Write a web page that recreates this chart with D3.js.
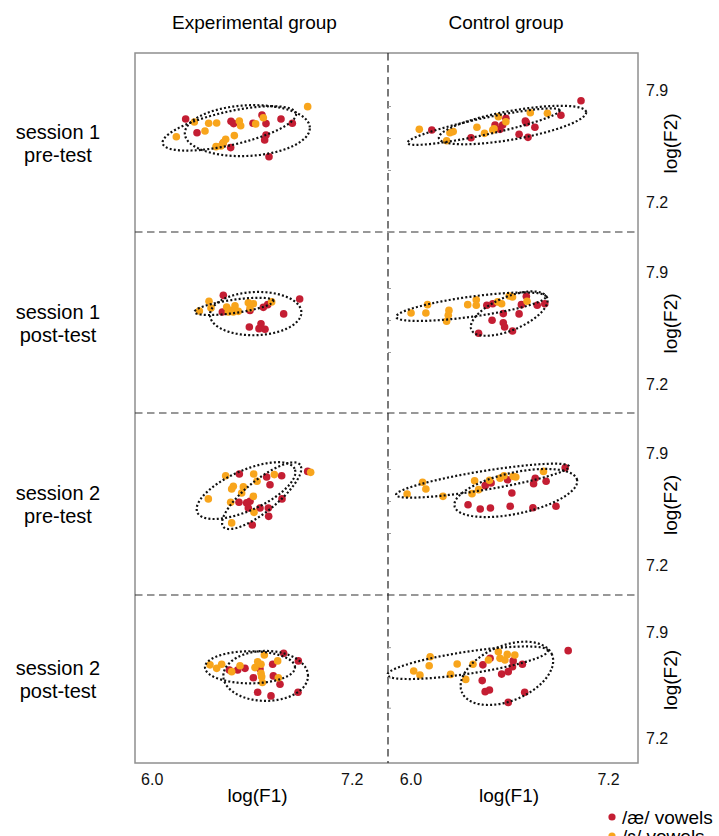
<!DOCTYPE html>
<html>
<head>
<meta charset="utf-8">
<script src="https://cdn.jsdelivr.net/npm/d3@7"></script>
<style>
  body { margin: 0; background: #fff; }
  svg { display: block; font-family: Arial, "Liberation Sans", sans-serif; }
</style>
</head>
<body>
<div id="chart"></div>
<script>
const groups = ["Experimental group", "Control group"];
const sessions = [["session 1", "pre-test"], ["session 1", "post-test"], ["session 2", "pre-test"], ["session 2", "post-test"]];
const xTicks = [6.0, 7.2];
const yTicks = [7.9, 7.2];
const minorTicks = [7.4, 7.6, 7.8];
const vowels = ["/æ/ vowels", "/ɛ/ vowels"];

// [log(F1), log(F2)] per speaker
const exp_s1pre_ae = [[6.204,7.719],[6.272,7.633],[6.476,7.704],[6.492,7.690],[6.608,7.692],[6.662,7.744],[6.686,7.690],[6.776,7.719],[6.844,7.692],[6.686,7.619],[6.678,7.588],[6.474,7.540],[6.428,7.567],[6.704,7.483]];
const exp_s1pre_eh = [[6.256,7.700],[6.342,7.692],[6.390,7.694],[6.320,7.644],[6.148,7.608],[6.526,7.706],[6.534,7.677],[6.624,7.688],[6.670,7.727],[6.936,7.796],[6.496,7.615],[6.444,7.592],[6.430,7.571],[6.386,7.546],[6.416,7.550]];
const ctl_s1pre_ae = [[6.166,7.650],[6.404,7.602],[6.550,7.681],[6.580,7.654],[6.596,7.681],[6.616,7.723],[6.696,7.623],[6.734,7.706],[6.740,7.696],[6.750,7.604],[6.792,7.667],[6.950,7.742],[7.072,7.833]];
const ctl_s1pre_eh = [[6.090,7.654],[6.256,7.583],[6.276,7.633],[6.296,7.640],[6.440,7.667],[6.486,7.629],[6.536,7.650],[6.544,7.658],[6.570,7.733],[6.616,7.702],[6.764,7.758],[6.868,7.754]];
const exp_s1post_ae = [[6.430,7.754],[6.424,7.650],[6.590,7.660],[6.670,7.679],[6.696,7.696],[6.792,7.638],[6.888,7.731],[6.586,7.556],[6.656,7.577],[6.644,7.546],[6.680,7.542]];
const exp_s1post_eh = [[6.286,7.656],[6.344,7.717],[6.356,7.675],[6.450,7.681],[6.470,7.660],[6.500,7.688],[6.490,7.650],[6.520,7.654],[6.460,7.650],[6.580,7.708],[6.610,7.702],[6.590,7.675],[6.720,7.713]];
const ctl_s1post_ae = [[6.500,7.692],[6.536,7.702],[6.740,7.748],[6.710,7.696],[6.806,7.692],[6.852,7.702],[6.600,7.640],[6.532,7.598],[6.600,7.583],[6.608,7.556],[6.656,7.531],[6.696,7.638],[6.450,7.517]];
const ctl_s1post_eh = [[6.040,7.644],[6.140,7.696],[6.130,7.644],[6.270,7.660],[6.266,7.629],[6.256,7.592],[6.384,7.696],[6.436,7.727],[6.436,7.692],[6.566,7.713],[6.590,7.702],[6.636,7.750],[6.656,7.744],[6.744,7.717]];
const exp_s2pre_ae = [[6.526,7.769],[6.690,7.750],[6.780,7.758],[6.710,7.702],[6.524,7.592],[6.570,7.588],[6.590,7.598],[6.580,7.556],[6.650,7.556],[6.700,7.556],[6.702,7.504],[6.782,7.613],[6.936,7.785],[6.604,7.450]];
const exp_s2pre_eh = [[6.340,7.613],[6.444,7.758],[6.612,7.769],[6.632,7.723],[6.736,7.765],[6.490,7.692],[6.480,7.675],[6.550,7.688],[6.540,7.650],[6.610,7.629],[6.474,7.592],[6.614,7.529],[6.954,7.779],[6.480,7.463]];
const ctl_s2pre_ae = [[6.490,7.696],[6.526,7.713],[6.626,7.733],[6.794,7.742],[6.784,7.708],[6.860,7.723],[6.976,7.808],[6.652,7.650],[6.386,7.577],[6.460,7.550],[6.522,7.556],[6.642,7.567],[6.780,7.558],[6.920,7.567]];
const ctl_s2pre_eh = [[6.016,7.644],[6.110,7.717],[6.130,7.675],[6.234,7.629],[6.426,7.727],[6.450,7.671],[6.410,7.646],[6.516,7.729],[6.580,7.742],[6.604,7.758],[6.660,7.754],[6.676,7.750],[6.844,7.785]];
const exp_s2post_ae = [[6.466,7.649],[6.516,7.649],[6.560,7.660],[6.610,7.598],[6.650,7.656],[6.726,7.687],[6.792,7.759],[6.880,7.709],[6.730,7.610],[6.770,7.555],[6.636,7.502],[6.716,7.478],[6.878,7.502]];
const exp_s2post_eh = [[6.350,7.683],[6.390,7.660],[6.420,7.687],[6.480,7.638],[6.530,7.677],[6.620,7.665],[6.636,7.704],[6.656,7.687],[6.656,7.627],[6.660,7.605],[6.664,7.567],[6.676,7.748],[6.756,7.709],[6.760,7.598]];
const ctl_s2post_ae = [[6.476,7.683],[6.520,7.726],[6.590,7.622],[6.630,7.638],[6.656,7.671],[6.660,7.709],[6.716,7.687],[6.472,7.579],[6.490,7.506],[6.516,7.517],[6.730,7.502],[6.630,7.435],[6.994,7.777]];
const ctl_s2post_eh = [[6.056,7.642],[6.094,7.616],[6.150,7.677],[6.156,7.737],[6.280,7.620],[6.320,7.689],[6.372,7.587],[6.416,7.687],[6.510,7.715],[6.570,7.770],[6.580,7.726],[6.610,7.715],[6.624,7.752],[6.670,7.748]];

// ellipses: [centre F1, centre F2, major axis dF1, dF2, minor axis dF1, dF2]  (/æ/, /ɛ/)
const exp_s1pre_ell = [[6.574,7.646,0.375,0.020,-0.008,0.158],[6.466,7.660,0.400,0.094,-0.022,0.102]];
const ctl_s1pre_ell = [[6.656,7.681,0.447,0.082,-0.015,0.088],[6.480,7.671,0.462,0.102,-0.010,0.051]];
const exp_s1post_ell = [[6.624,7.640,0.274,0.010,-0.005,0.135],[6.494,7.685,0.236,0.035,-0.006,0.041]];
const ctl_s1post_ell = [[6.636,7.640,0.230,0.100,-0.039,0.096],[6.404,7.683,0.454,0.064,-0.008,0.062]];
const exp_s2pre_ell = [[6.660,7.633,0.230,0.194,-0.059,0.076],[6.566,7.665,0.292,0.136,-0.049,0.114]];
const ctl_s2pre_ell = [[6.676,7.650,0.372,0.082,-0.026,0.126],[6.474,7.727,0.525,0.089,-0.009,0.058]];
const exp_s2post_ell = [[6.684,7.610,0.254,0,0,0.165],[6.590,7.667,0.270,0,0,0.106]];
const ctl_s2post_ell = [[6.622,7.627,0.274,0.123,-0.062,0.169],[6.384,7.697,0.487,0.080,-0.010,0.072]];

const panels = [
    { row: 0, col: 0, ae: exp_s1pre_ae, eh: exp_s1pre_eh, ell: exp_s1pre_ell },
    { row: 0, col: 1, ae: ctl_s1pre_ae, eh: ctl_s1pre_eh, ell: ctl_s1pre_ell },
    { row: 1, col: 0, ae: exp_s1post_ae, eh: exp_s1post_eh, ell: exp_s1post_ell },
    { row: 1, col: 1, ae: ctl_s1post_ae, eh: ctl_s1post_eh, ell: ctl_s1post_ell },
    { row: 2, col: 0, ae: exp_s2pre_ae, eh: exp_s2pre_eh, ell: exp_s2pre_ell },
    { row: 2, col: 1, ae: ctl_s2pre_ae, eh: ctl_s2pre_eh, ell: ctl_s2pre_ell },
    { row: 3, col: 0, ae: exp_s2post_ae, eh: exp_s2post_eh, ell: exp_s2post_ell },
    { row: 3, col: 1, ae: ctl_s2post_ae, eh: ctl_s2post_eh, ell: ctl_s2post_ell }
];

const width = 719, height = 836;
const colors = { ae: "#c41e33", eh: "#f8a51c" };
const box = { left: 135, right: 638, top: 53, bottom: 763 };
const divX = 388;
const rowEdges = [53, 232, 413, 595, 763];
// pixel rows where 7.9 and 7.2 fall in each panel row
const rowTickPx = [[90, 202], [272, 384], [453, 565], [632, 738]];
const colRange = [[box.left, divX], [divX, box.right]];
const colLabelShift = [0, 6];
const xDomain = [5.9, 7.418];

const svg = d3.select("#chart")
    .append("svg")
    .attr("width", width)
    .attr("height", height)
    .attr("viewBox", [0, 0, width, height]);

const xScale = col => d3.scaleLinear().domain(xDomain).range(colRange[col]);
const yScale = row => d3.scaleLinear().domain(yTicks).range(rowTickPx[row]);

// frame and dashed dividers
svg.append("rect")
    .attr("x", box.left).attr("y", box.top)
    .attr("width", box.right - box.left).attr("height", box.bottom - box.top)
    .attr("fill", "none").attr("stroke", "#8f8f8f").attr("stroke-width", 1.5);

svg.selectAll("line.hdiv")
    .data(rowEdges.slice(1, 4))
    .join("line")
    .attr("x1", box.left).attr("x2", box.right)
    .attr("y1", d => d).attr("y2", d => d)
    .attr("stroke", "#333").attr("stroke-width", 1.2)
    .attr("stroke-dasharray", "7.5,4.5");

svg.append("line")
    .attr("x1", divX).attr("x2", divX)
    .attr("y1", box.top).attr("y2", box.bottom)
    .attr("stroke", "#222").attr("stroke-width", 1.2)
    .attr("stroke-dasharray", "7.5,4.5");

const ellipsePath = d3.line().curve(d3.curveLinearClosed);

panels.forEach(p => {
    const x = xScale(p.col);
    const y = yScale(p.row);
    const g = svg.append("g");

    g.selectAll("circle.ae")
        .data(p.ae)
        .join("circle")
        .attr("cx", d => x(d[0])).attr("cy", d => y(d[1]))
        .attr("r", 3.8).attr("fill", colors.ae);

    g.selectAll("circle.eh")
        .data(p.eh)
        .join("circle")
        .attr("cx", d => x(d[0])).attr("cy", d => y(d[1]))
        .attr("r", 3.8).attr("fill", colors.eh);

    g.selectAll("path")
        .data(p.ell)
        .join("path")
        .attr("d", e => ellipsePath(d3.range(180).map(i => {
            const t = i / 180 * 2 * Math.PI;
            return [x(e[0] + e[2] * Math.cos(t) + e[4] * Math.sin(t)),
                    y(e[1] + e[3] * Math.cos(t) + e[5] * Math.sin(t))];
        })))
        .attr("fill", "none")
        .attr("stroke", "#111")
        .attr("stroke-width", 2.2)
        .attr("stroke-dasharray", "2,2.2");
});

// y axes on the right, small ticks on the divider, row labels
sessions.forEach((s, row) => {
    const y = yScale(row);
    const ax = svg.append("g")
        .attr("transform", `translate(${box.right},0)`)
        .call(d3.axisRight(y).tickValues(yTicks).tickSize(0).tickPadding(8).tickFormat(d3.format(".1f")));
    ax.select(".domain").remove();
    ax.selectAll("text").attr("font-size", 16).attr("font-family", "Arial, 'Liberation Sans', sans-serif").attr("fill", "#111");

    const mt = svg.append("g")
        .attr("transform", `translate(${divX},0)`)
        .call(d3.axisRight(y).tickValues(minorTicks).tickSize(3).tickFormat(""));
    mt.select(".domain").remove();
    mt.selectAll("line").attr("stroke", "#999");

    const cy = (rowEdges[row] + rowEdges[row + 1]) / 2 + 1;
    svg.append("text")
        .attr("transform", `translate(677,${cy}) rotate(-90)`)
        .attr("text-anchor", "middle")
        .attr("font-size", 19)
        .text("log(F2)");

    svg.append("text")
        .attr("x", 58).attr("y", cy - 5)
        .attr("text-anchor", "middle")
        .attr("font-size", 20)
        .selectAll("tspan")
        .data(s)
        .join("tspan")
        .attr("x", 58)
        .attr("dy", (d, i) => i === 0 ? 0 : 23)
        .text(d => d);
});

// x axes and column titles
groups.forEach((name, col) => {
    const x = xScale(col);
    const ax = svg.append("g")
        .attr("transform", `translate(${colLabelShift[col]},${box.bottom})`)
        .call(d3.axisBottom(x).tickValues(xTicks).tickSize(0).tickPadding(11).tickFormat(d3.format(".1f")));
    ax.select(".domain").remove();
    ax.selectAll("text").attr("font-size", 16).attr("font-family", "Arial, 'Liberation Sans', sans-serif").attr("fill", "#111");

    const mid = (colRange[col][0] + colRange[col][1]) / 2;
    svg.append("text")
        .attr("x", mid - 4).attr("y", 802)
        .attr("text-anchor", "middle")
        .attr("font-size", 19)
        .text("log(F1)");

    svg.append("text")
        .attr("x", mid - 7).attr("y", 29)
        .attr("text-anchor", "middle")
        .attr("font-size", 19)
        .text(name);
});

// legend (second entry runs off the bottom edge, as in the original)
const legend = svg.append("g").attr("transform", "translate(612,817)");
legend.selectAll("circle")
    .data([colors.ae, colors.eh])
    .join("circle")
    .attr("cx", 0).attr("cy", (d, i) => i * 19)
    .attr("r", 3.6).attr("fill", d => d);
legend.selectAll("text")
    .data(vowels)
    .join("text")
    .attr("x", 10).attr("y", (d, i) => i * 19 + 7)
    .attr("font-size", 19)
    .text(d => d);
</script>
</body>
</html>
